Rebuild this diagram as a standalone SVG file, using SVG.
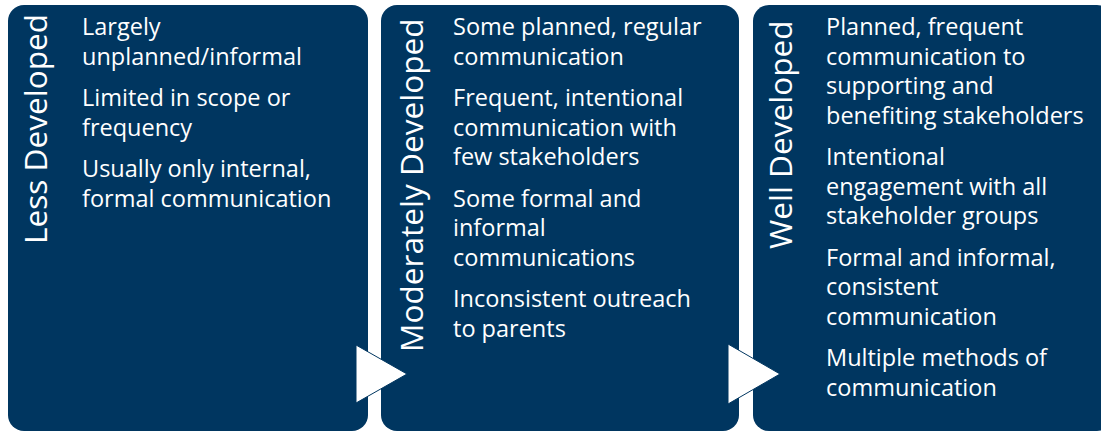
<svg xmlns="http://www.w3.org/2000/svg" width="1101" height="432" viewBox="0 0 1101 432">
<style>
.panel{fill:#003660;}
.lbl{font-family:"Open Sans","DejaVu Sans",sans-serif;font-size:31.6px;fill:#ffffff;}
.txt{font-family:"Open Sans","DejaVu Sans",sans-serif;font-size:23.5px;fill:#ffffff;}
.arrow{fill:#ffffff;stroke:#003660;stroke-width:1;}
</style>
<rect width="1101" height="432" fill="#ffffff"/>
<g id="less-developed">
<rect class="panel" x="8" y="5" width="360" height="426" rx="16" ry="16"/>
<text class="lbl" transform="translate(46.5,244) rotate(-90)">Less Developed</text>
<text class="txt">
<tspan x="82" y="35">Largely</tspan>
<tspan x="82" y="64.5">unplanned/informal</tspan>
<tspan x="82" y="106">Limited in scope or</tspan>
<tspan x="82" y="135.5">frequency</tspan>
<tspan x="82" y="177">Usually only internal,</tspan>
<tspan x="82" y="206.5">formal communication</tspan>
</text>
</g>
<g id="moderately-developed">
<rect class="panel" x="381" y="5" width="358" height="426" rx="16" ry="16"/>
<text class="lbl" transform="translate(423,352) rotate(-90)">Moderately Developed</text>
<text class="txt">
<tspan x="453" y="35">Some planned, regular</tspan>
<tspan x="453" y="64.5">communication</tspan>
<tspan x="453" y="106">Frequent, intentional</tspan>
<tspan x="453" y="135.5">communication with</tspan>
<tspan x="453" y="165">few stakeholders</tspan>
<tspan x="453" y="206.5">Some formal and</tspan>
<tspan x="453" y="236">informal</tspan>
<tspan x="453" y="265.5">communications</tspan>
<tspan x="453" y="307">Inconsistent outreach</tspan>
<tspan x="453" y="336.5">to parents</tspan>
</text>
</g>
<g id="well-developed">
<rect class="panel" x="753" y="5" width="360" height="426" rx="16" ry="16"/>
<text class="lbl" transform="translate(792,249) rotate(-90)">Well Developed</text>
<text class="txt">
<tspan x="826" y="35">Planned, frequent</tspan>
<tspan x="826" y="64.5">communication to</tspan>
<tspan x="826" y="94">supporting and</tspan>
<tspan x="826" y="123.5">benefiting stakeholders</tspan>
<tspan x="826" y="165">Intentional</tspan>
<tspan x="826" y="194.5">engagement with all</tspan>
<tspan x="826" y="224">stakeholder groups</tspan>
<tspan x="826" y="265.5">Formal and informal,</tspan>
<tspan x="826" y="295">consistent</tspan>
<tspan x="826" y="324.5">communication</tspan>
<tspan x="826" y="366">Multiple methods of</tspan>
<tspan x="826" y="395.5">communication</tspan>
</text>
</g>
<g id="connectors">
<polygon class="arrow" points="356,345 356,403 407,374"/>
<polygon class="arrow" points="728,344 728,404 780,374"/>
</g>
</svg>
